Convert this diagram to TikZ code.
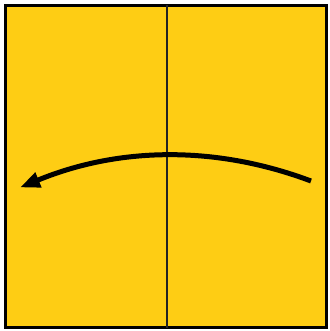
\documentclass[tikz,border=0pt]{standalone}
\usetikzlibrary{arrows.meta}
\definecolor{paper}{RGB}{254,205,20}
\definecolor{fold}{RGB}{35,35,35}
\tikzset{
  sheet/.style={fill=paper, draw=black, line width=3pt},
  foldline/.style={draw=fold, line width=2pt},
  turnarrow/.style={draw=black, line width=5pt, -{Triangle[length=20pt,width=15pt]}}
}
\begin{document}
\begin{tikzpicture}[x=1pt,y=-1pt]
  \useasboundingbox (0,0) rectangle (329,331);
  \draw[sheet] (5.5,5.5) rectangle (326.5,327.5);
  \coordinate (top) at (167,5.5);
  \coordinate (bottom) at (167,327.5);
  \draw[foldline] (top) -- (bottom);
  \coordinate (start) at (311,181);
  \coordinate (tip) at (20,187.5);
  \draw[turnarrow] (start) .. controls (217,145.7) and (120,146.3) .. (tip);
\end{tikzpicture}
\end{document}
